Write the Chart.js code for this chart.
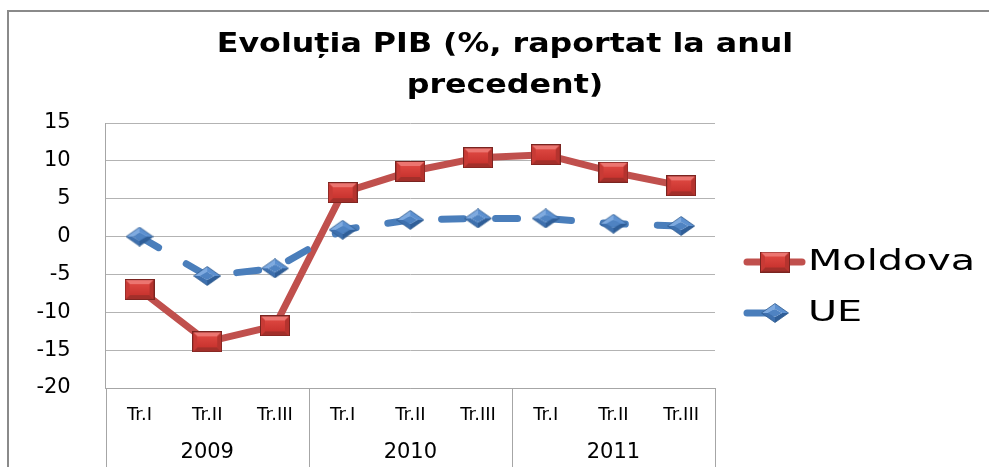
<!DOCTYPE html>
<html><head><meta charset="utf-8">
<script src="https://cdn.jsdelivr.net/npm/chart.js@4"></script>
<style>html,body{margin:0;padding:0;background:#fff}#wrap{width:989px;height:467px;position:relative}</style>
</head><body><div id="wrap"><canvas id="c" width="989" height="467"></canvas></div>
<script>
const categories = ['Tr.I','Tr.II','Tr.III','Tr.I','Tr.II','Tr.III','Tr.I','Tr.II','Tr.III'];
const years = ['2009','2010','2011'];
const moldova = [-7.0, -13.9, -11.8, 5.8, 8.6, 10.4, 10.8, 8.5, 6.7];
const ue = [0.0, -5.2, -4.2, 0.9, 2.2, 2.4, 2.4, 1.7, 1.4];
const seriesNames = ['Moldova', 'UE'];
const titleLines = ['Evoluția PIB (%, raportat la anul', 'precedent)'];
const yMin = -20, yMax = 15, yStep = 5;

function makeRect(w, h) {
  const c = document.createElement('canvas'); c.width = w; c.height = h;
  const g = c.getContext('2d'); const b = 5;
  g.fillStyle = '#D43F3A'; g.fillRect(0, 0, w, h);
  const facet = (pts, col) => { g.fillStyle = col; g.beginPath(); g.moveTo(pts[0][0], pts[0][1]); for (let i = 1; i < pts.length; i++) g.lineTo(pts[i][0], pts[i][1]); g.closePath(); g.fill(); };
  facet([[0,0],[w,0],[w-b,b],[b,b]], '#EC7570');
  facet([[0,h],[w,h],[w-b,h-b],[b,h-b]], '#A22F2A');
  facet([[0,0],[b,b],[b,h-b],[0,h]], '#C83A35');
  facet([[w,0],[w-b,b],[w-b,h-b],[w,h]], '#B5332E');
  const gr = g.createLinearGradient(0, b, 0, h-b); gr.addColorStop(0, '#DC4640'); gr.addColorStop(1, '#C9342F');
  g.fillStyle = gr; g.fillRect(b, b, w-2*b, h-2*b);
  g.strokeStyle = '#7A2420'; g.lineWidth = 1; g.strokeRect(0.5, 0.5, w-1, h-1);
  return c;
}
function makeDiamond(w, h) {
  const c = document.createElement('canvas'); c.width = w; c.height = h;
  const g = c.getContext('2d'); const cx = w/2, cy = h/2;
  const T=[cx,0.5], R=[w-0.5,cy], B=[cx,h-0.5], L=[0.5,cy];
  const iT=[cx,cy-4], iR=[cx+7,cy], iB=[cx,cy+4], iL=[cx-7,cy];
  const facet = (pts, col) => { g.fillStyle = col; g.beginPath(); g.moveTo(pts[0][0], pts[0][1]); for (let i = 1; i < pts.length; i++) g.lineTo(pts[i][0], pts[i][1]); g.closePath(); g.fill(); };
  facet([L,T,iT,iL], '#7EAAE0');
  facet([T,R,iR,iT], '#5C90D0');
  facet([R,B,iB,iR], '#2F5E98');
  facet([B,L,iL,iB], '#3E70AE');
  facet([iT,iR,iB,iL], '#4F83C2');
  g.strokeStyle = '#2F5A8E'; g.lineWidth = 0.8; g.beginPath(); g.moveTo(T[0],T[1]); g.lineTo(R[0],R[1]); g.lineTo(B[0],B[1]); g.lineTo(L[0],L[1]); g.closePath(); g.stroke();
  return c;
}
const rectMarker = makeRect(30, 21);
const diamondMarker = makeDiamond(28, 20);

const frame = {
  id: 'frame',
  beforeDraw(chart) {
    const ctx = chart.ctx;
    ctx.save();
    ctx.fillStyle = '#fff'; ctx.fillRect(0, 0, chart.width, chart.height);
    ctx.strokeStyle = '#8A8A8A'; ctx.lineWidth = 2;
    ctx.strokeRect(8, 11, chart.width + 50, chart.height + 50);
    // title (stretched like the reference)
    ctx.fillStyle = '#000'; ctx.font = 'bold 26px "DejaVu Sans"'; ctx.textAlign = 'center'; ctx.textBaseline = 'alphabetic';
    const cx = (21 + chart.width) / 2;
    const base = [52, 92.5];
    titleLines.forEach((t, i) => { ctx.save(); ctx.translate(cx, base[i]); ctx.scale(1.22, 1); ctx.fillText(t, 0, 0); ctx.restore(); });
    ctx.restore();
  },
  afterDraw(chart) {
    const ctx = chart.ctx, a = chart.chartArea, xs = chart.scales.x;
    ctx.save();
    ctx.strokeStyle = '#A6A6A6'; ctx.lineWidth = 1;
    for (let k = 0; k <= years.length; k++) {
      let x;
      if (k === 0) x = a.left; else if (k === years.length) x = a.right;
      else x = (xs.getPixelForValue(k*3-1) + xs.getPixelForValue(k*3)) / 2;
      x = Math.round(x) + 0.5;
      ctx.beginPath(); ctx.moveTo(x, a.bottom); ctx.lineTo(x, chart.height); ctx.stroke();
    }
    // legend
    const ly = [262, 313];
    chart.data.datasets.forEach((ds, i) => {
      const y = ly[i];
      ctx.strokeStyle = ds.borderColor; ctx.lineWidth = 7; ctx.lineCap = 'round'; ctx.setLineDash([]);
      ctx.beginPath(); ctx.moveTo(747, y); ctx.lineTo(i === 0 ? 802 : 772, y); ctx.stroke();
      const m = ds.pointStyle;
      ctx.drawImage(m, 775 - m.width/2, y - m.height/2);
      ctx.fillStyle = '#000'; ctx.font = '28px "DejaVu Sans"'; ctx.textBaseline = 'middle'; ctx.textAlign = 'left';
      ctx.save(); ctx.translate(808, y + 1); ctx.scale(1.42, 1); ctx.fillText(ds.label, 0, 0); ctx.restore();
    });
    ctx.restore();
  }
};

new Chart(document.getElementById('c'), {
  type: 'line',
  data: {
    labels: categories,
    datasets: [
      { label: seriesNames[0], data: moldova, borderColor: '#C0504D', borderWidth: 7, pointStyle: rectMarker, pointRadius: 12, order: 1, tension: 0, borderCapStyle: 'round', borderJoinStyle: 'round' },
      { label: seriesNames[1], data: ue, borderColor: '#4A7EBB', borderWidth: 7, borderDash: [22, 32], borderCapStyle: 'round', pointStyle: diamondMarker, pointRadius: 12, order: 0, tension: 0 }
    ]
  },
  options: {
    responsive: false, animation: false, devicePixelRatio: 1,
    layout: { padding: { left: 21, right: 0, top: 123, bottom: 0 } },
    plugins: {
      legend: { display: false }, tooltip: { enabled: false }, title: { display: false }
    },
    scales: {
      x: { type: 'category', position: 'bottom', offset: true,
        grid: { display: false }, border: { display: true, color: '#A6A6A6', width: 1 },
        ticks: { font: { family: 'DejaVu Sans', size: 18 }, color: '#000', padding: 9, maxRotation: 0, autoSkip: false },
        afterFit: s => { s.height = 36; } },
      x2: { type: 'category', position: 'bottom', labels: years, offset: true,
        grid: { display: false }, border: { display: false },
        ticks: { font: { family: 'DejaVu Sans', size: 21 }, color: '#000', padding: 8, maxRotation: 0 },
        afterFit: s => { s.height = 43; } },
      y: { type: 'linear', min: yMin, max: yMax,
        ticks: { stepSize: yStep, font: { family: 'DejaVu Sans', size: 21 }, color: '#000', padding: 35 },
        grid: { color: '#B3B3B3', drawTicks: false }, border: { display: true, color: '#A6A6A6' },
        afterFit: s => { s.width = 84.7; } },
      yR: { type: 'linear', position: 'right', display: true,
        grid: { display: false }, border: { display: false }, ticks: { display: false },
        afterFit: s => { s.width = 274; } }
    }
  },
  plugins: [frame]
});
</script></body></html>
